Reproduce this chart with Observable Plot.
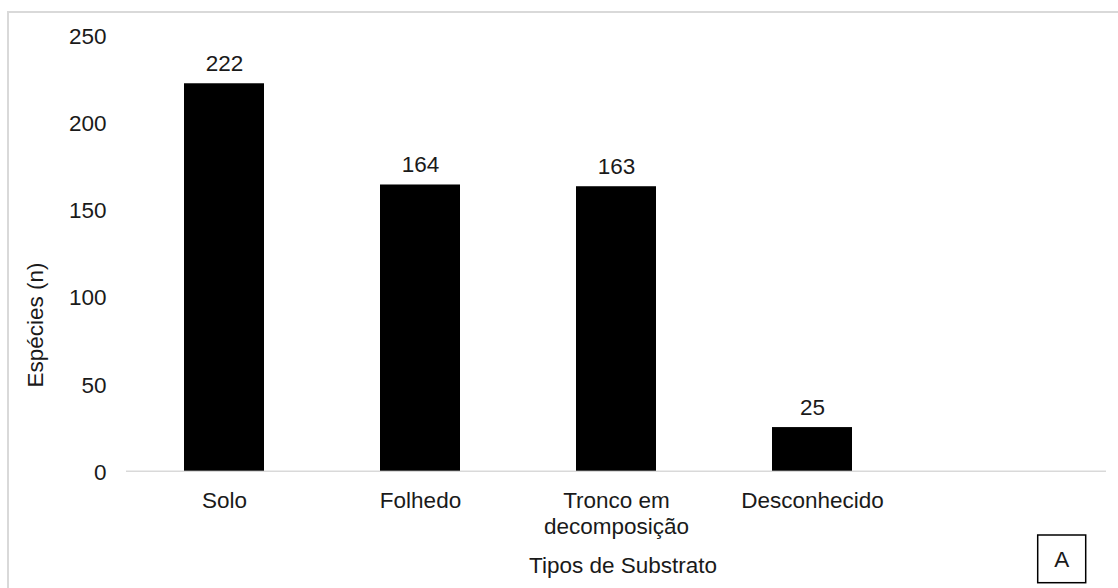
<!DOCTYPE html>
<html>
<head>
<meta charset="utf-8">
<script src="https://cdn.jsdelivr.net/npm/d3@7"></script>
<script src="https://cdn.jsdelivr.net/npm/@observablehq/plot@0.6"></script>
<style>
  html, body { margin: 0; padding: 0; background: #fff; }
  #chart { width: 1118px; height: 588px; overflow: hidden; }
  #chart svg { overflow: hidden; }
</style>
</head>
<body>
<div id="chart"></div>
<script>
// Substrate types (last slot left empty, as in the original layout)
const categories = ["Solo", "Folhedo", "Tronco em decomposição", "Desconhecido", ""];
const tickLabels = ["Solo", "Folhedo", "Tronco em\ndecomposição", "Desconhecido", ""];
// Number of species per substrate
const values = [222, 164, 163, 25];
const yTicks = [0, 50, 100, 150, 200, 250];
const yTitle = "Espécies (n)";
const xTitle = "Tipos de Substrato";
const panelLetter = "A";

const rows = values.map((n, i) => ({cat: categories[i], n}));
const labelOf = new Map(categories.map((c, i) => [c, tickLabels[i]]));

const font = "'Liberation Sans', Arial, sans-serif";
const ink = "#1a1a1a";

const chart = Plot.plot({
  width: 1118,
  height: 588,
  marginLeft: 126,
  marginRight: 12,
  marginTop: 34.4,
  marginBottom: 117.3,
  style: {fontFamily: font, fontSize: "22.5px", color: ink, background: "#fff"},
  x: {domain: categories, paddingInner: 0.592, paddingOuter: 0.296, label: null},
  y: {domain: [0, 250], label: null},
  marks: [
    Plot.axisY({ticks: yTicks, tickSize: 0, tickPadding: 20, dy: 1.5, label: null}),
    Plot.axisX({tickSize: 0, tickPadding: 19, label: null, lineHeight: 1.13,
                tickFormat: d => labelOf.get(d)}),
    Plot.ruleY([0], {stroke: "#d9d9d9", strokeWidth: 1.6}),
    Plot.barY(rows, {x: "cat", y: "n", fill: "#000"}),
    Plot.text(rows, {x: "cat", y: "n", text: d => String(d.n), dy: -19.8, fill: ink}),
    Plot.text([yTitle], {frameAnchor: "left", textAnchor: "middle", lineAnchor: "middle",
                         rotate: -90, dx: -91.2, dy: 72, fill: ink}),
    Plot.text([xTitle], {frameAnchor: "bottom", textAnchor: "middle", lineAnchor: "middle",
                         dx: 6.5, dy: 94.1, fill: ink})
  ]
});

// Light chart-area border, running off the right and bottom edges
const svg = d3.select(chart);
svg.insert("rect", ":first-child")
  .attr("x", 8).attr("y", 12)
  .attr("width", 1300).attr("height", 800)
  .attr("fill", "none")
  .attr("stroke", "#d9d9d9")
  .attr("stroke-width", 2);

// Panel letter in a small box, bottom right
const box = svg.append("g");
box.append("rect")
  .attr("x", 1037.7).attr("y", 535)
  .attr("width", 48).attr("height", 47.7)
  .attr("fill", "#fff")
  .attr("stroke", "#000")
  .attr("stroke-width", 1.5);
box.append("text")
  .attr("x", 1061.7).attr("y", 566.5)
  .attr("text-anchor", "middle")
  .attr("fill", ink)
  .style("font-family", font)
  .style("font-size", "22.5px")
  .text(panelLetter);

document.getElementById("chart").appendChild(chart);
</script>
</body>
</html>
